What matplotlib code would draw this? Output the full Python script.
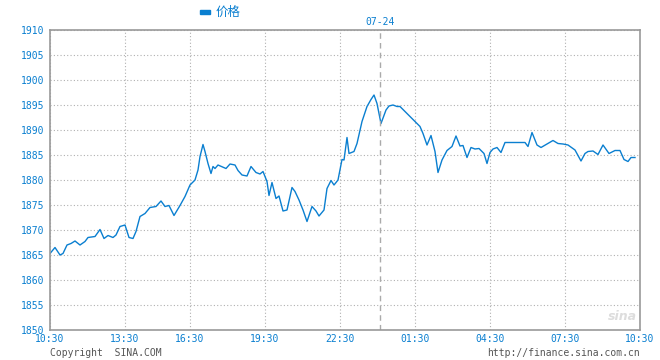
import numpy as np
import matplotlib
matplotlib.use("Agg")
import matplotlib.pyplot as plt

# time axis: position index (0 = 10:30 day 1, 590 = 10:30 next day)
t = [0, 5, 10, 13, 17, 21, 25, 30, 35, 38, 45, 50, 54, 58, 63, 66, 70, 75, 79, 83,
     86, 90, 95, 100, 106, 111, 115, 119, 124, 130, 135, 140, 145, 148,
     150, 153, 155, 158, 161, 163, 165, 168, 176, 180, 185, 188, 192, 197, 201,
     206, 210, 213, 217, 219, 222, 226, 229, 233, 237, 242, 245, 249, 253, 257,
     262, 266, 269, 274, 277, 281, 284, 288, 292, 294,
     297, 299, 304, 307, 312, 317, 321, 324, 327, 331, 336, 339, 343, 347, 350,
     370, 373, 377, 381, 385, 388, 392, 397, 402, 406, 410, 413, 417, 421, 425,
     429, 434, 437, 440, 443, 447, 451, 455, 475, 478, 482, 487, 491, 497,
     503, 508, 513, 518, 525, 531, 535, 538, 543, 548, 553, 559, 565, 570,
     574, 578, 581, 585]
price = [1865.3, 1866.5, 1865.0, 1865.3, 1867.0, 1867.3, 1867.8, 1867.0, 1867.7,
         1868.5, 1868.7, 1870.1, 1868.3, 1868.9, 1868.5, 1869.0, 1870.7, 1871.0,
         1868.5, 1868.3, 1869.7, 1872.7, 1873.3, 1874.5, 1874.7, 1875.8, 1874.7,
         1874.9, 1872.9, 1874.9, 1876.7, 1879.0, 1880.0, 1882.0,
         1884.7, 1887.1, 1885.7, 1883.3, 1881.3, 1882.7, 1882.3, 1883.0, 1882.3,
         1883.2, 1883.0, 1881.9, 1881.0, 1880.8, 1882.7, 1881.5, 1881.2, 1881.7,
         1879.7, 1876.9, 1879.5, 1876.3, 1876.8, 1873.8, 1874.0, 1878.5, 1877.7,
         1876.0, 1874.0, 1871.7, 1874.7, 1873.8, 1872.8, 1874.0, 1878.3, 1879.9,
         1879.0, 1880.0, 1884.1, 1884.0,
         1888.5, 1885.3, 1885.7, 1887.3, 1891.7, 1894.7, 1896.1, 1897.0, 1895.3,
         1891.3, 1894.0, 1894.8, 1895.0, 1894.7, 1894.7,
         1890.7, 1889.3, 1887.0, 1888.9, 1885.7, 1881.5, 1884.0, 1885.9, 1886.7,
         1888.8, 1886.8, 1886.9, 1884.5, 1886.5, 1886.2, 1886.3, 1885.3, 1883.3,
         1885.5, 1886.2, 1886.5, 1885.5, 1887.5, 1887.5, 1886.7, 1889.5, 1887.0,
         1886.5, 1887.2, 1887.9, 1887.3, 1887.2, 1887.0, 1886.0, 1883.8, 1885.3,
         1885.7, 1885.8, 1885.1, 1887.0, 1885.3, 1885.9, 1885.9, 1884.1, 1883.7,
         1884.5, 1884.5]

tick_pos = [0, 75, 140, 215, 290, 365, 440, 515, 590]
tick_labels = ["10:30", "13:30", "16:30", "19:30", "22:30", "01:30", "04:30", "07:30", "10:30"]
y_ticks = list(range(1850, 1911, 5))
day_break = 330
day_label = "07-24"

blue = "#0a7fd0"
grid_c = "#b0b0b0"
mono = "DejaVu Sans Mono"

fig = plt.figure(figsize=(6.6, 3.6), dpi=100)
ax = fig.add_axes([50 / 660, 30 / 360, 590 / 660, 300 / 360])

ax.plot(t, price, color=blue, lw=1.0)
ax.axvline(day_break, color="#aaaaaa", lw=1.0, ls=(0, (4, 3)))

ax.set_xlim(0, 590)
ax.set_ylim(1850, 1910)
ax.set_xticks(tick_pos)
ax.set_xticklabels(tick_labels)
ax.set_yticks(y_ticks)
ax.grid(True, color=grid_c, ls=(0, (1, 2)), lw=0.8)
for s in ax.spines.values():
    s.set_color("#999999")
    s.set_linewidth(1.2)
ax.tick_params(length=0, colors=blue, labelsize=7)
ax.tick_params(axis="x", pad=3)
ax.tick_params(axis="y", pad=4)
for lab in ax.get_xticklabels() + ax.get_yticklabels():
    lab.set_family(mono)

fig.text(380 / 660, 1 - 22 / 360, day_label, color=blue, fontsize=7, family=mono,
         ha="center", va="center")

# legend
fig.patches.append(plt.Rectangle((200 / 660, 1 - 13.5 / 360), 10 / 660, 3.5 / 360,
                                 transform=fig.transFigure, color=blue))
fig.text(216 / 660, 1 - 12 / 360, "价格", color=blue, fontsize=9,
         family=["Noto Sans CJK SC", "DejaVu Sans"], ha="left", va="center")

fig.text(50 / 660, 1 - 353 / 360, "Copyright  SINA.COM", color="#555555",
         fontsize=7, family=mono, ha="left", va="center")
fig.text(640 / 660, 1 - 353 / 360, "http://finance.sina.com.cn", color="#555555",
         fontsize=7, family=mono, ha="right", va="center")
fig.text(622 / 660, 1 - 317 / 360, "sina", color="#dddddd", fontsize=9,
         style="italic", weight="bold", ha="center", va="center")

fig.savefig("out.png", dpi=100)
